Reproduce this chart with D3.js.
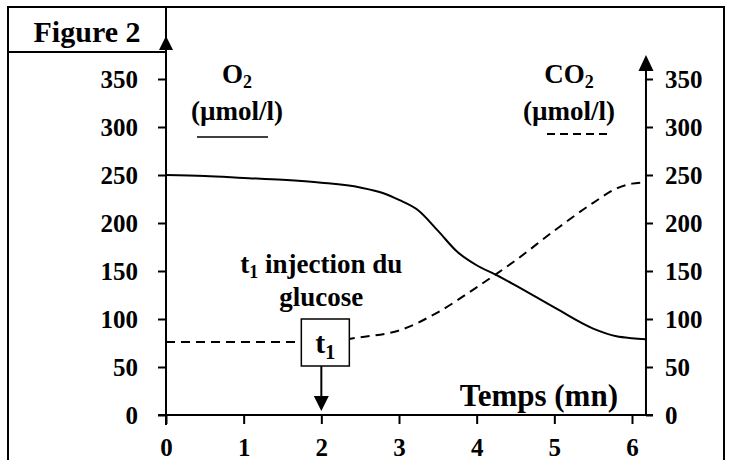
<!DOCTYPE html>
<html>
<head>
<meta charset="utf-8">
<script src="https://cdn.jsdelivr.net/npm/d3@7"></script>
<style>
  body { margin: 0; background: #fff; }
  svg text { font-family: "Liberation Serif", "Times New Roman", serif; font-weight: bold; fill: #000; }
</style>
</head>
<body>
<svg width="732" height="460"></svg>
<script>
var svg = d3.select("svg");

// data
var timeTicks = [0, 1, 2, 3, 4, 5, 6];
var concTicks = [0, 50, 100, 150, 200, 250, 300, 350];
var o2Time = [0, 0.5, 1, 1.5, 2, 2.5, 2.8, 3, 3.25, 3.5, 3.75, 4, 4.25, 4.5, 5, 5.5, 5.8, 6, 6.18];
var o2Vals = [250, 249, 247, 245, 242, 237, 231, 224, 213, 192, 170, 156, 146, 135, 112, 90, 82, 80, 79];
var co2Time = [0, 1, 2, 2.5, 3, 3.5, 4, 4.5, 5, 5.5, 5.8, 6, 6.12];
var co2Vals = [76, 76, 76, 81, 88, 107, 133, 161, 192, 221, 236, 241, 242];
var injectTime = 2;

var x = d3.scaleLinear().domain([0, 6]).range([166, 632]),
    y = d3.scaleLinear().domain([0, 350]).range([415, 79]),
    xEnd = x(6.18);

// outer frame + "Figure 2" box
svg.append("rect").attr("x", 8).attr("y", 7).attr("width", 716).attr("height", 470)
    .attr("fill", "none").attr("stroke", "#000").attr("stroke-width", 2);
svg.append("rect").attr("x", 8).attr("y", 7).attr("width", x(0) - 8).attr("height", 45)
    .attr("fill", "none").attr("stroke", "#000").attr("stroke-width", 2);
svg.append("text").attr("x", 87).attr("y", 42).attr("text-anchor", "middle")
    .style("font-size", "30px").text("Figure 2");

// axes
var gl = svg.append("g").attr("transform", "translate(" + x(0) + ",0)")
    .call(d3.axisLeft(y).tickValues(concTicks).tickSize(8).tickPadding(20).tickSizeOuter(0));
var gr = svg.append("g").attr("transform", "translate(" + xEnd + ",0)")
    .call(d3.axisRight(y).tickValues(concTicks).tickSize(7).tickPadding(12).tickSizeOuter(0));
var gb = svg.append("g").attr("transform", "translate(0," + y(0) + ")")
    .call(d3.axisBottom(x).tickValues(timeTicks).tickFormat(d3.format("d"))
      .tickSize(9).tickPadding(14).tickSizeOuter(0));

[gl, gr, gb].forEach(function(g) {
  g.select(".domain").remove();
  g.selectAll(".tick line").attr("stroke", "#000").attr("stroke-width", 2);
  g.selectAll(".tick text").style("font-size", "25px").attr("fill", "#000");
});

function line(x1, y1, x2, y2) {
  return svg.append("line").attr("x1", x1).attr("y1", y1).attr("x2", x2).attr("y2", y2)
      .attr("stroke", "#000").attr("stroke-width", 2);
}
function arrowDown(cx, tip, h, w) {
  svg.append("path").attr("d", "M" + cx + "," + tip + "L" + (cx - w / 2) + "," + (tip - h) + "L" + (cx + w / 2) + "," + (tip - h) + "Z");
}
function arrowUp(cx, tip, h, w) {
  svg.append("path").attr("d", "M" + cx + "," + tip + "L" + (cx - w / 2) + "," + (tip + h) + "L" + (cx + w / 2) + "," + (tip + h) + "Z");
}

line(x(0), 40, x(0), y(0) + 10);
arrowUp(x(0), 36, 14, 14);
line(xEnd, 60, xEnd, y(0));
arrowUp(xEnd, 55, 16, 15);
line(x(0) - 8, y(0), xEnd + 7, y(0));

// curves
var gen = d3.line().curve(d3.curveMonotoneX);
svg.append("path")
    .attr("d", gen(o2Time.map(function(t, i) { return [x(t), y(o2Vals[i])]; })))
    .attr("fill", "none").attr("stroke", "#000").attr("stroke-width", 2);
svg.append("path")
    .attr("d", gen(co2Time.map(function(t, i) { return [x(t), y(co2Vals[i])]; })))
    .attr("fill", "none").attr("stroke", "#000").attr("stroke-width", 2)
    .attr("stroke-dasharray", "9,6");

// injection marker
var xi = x(injectTime);
svg.append("rect").attr("x", xi - 20).attr("y", 319).attr("width", 48).attr("height", 47)
    .attr("fill", "#fff").attr("stroke", "#000").attr("stroke-width", 1.5);
var tb = svg.append("text").attr("x", xi + 4).attr("y", 353).attr("text-anchor", "middle")
    .style("font-size", "30px");
tb.append("tspan").text("t");
tb.append("tspan").attr("dy", 6).style("font-size", "20px").text("1");
line(xi, 366, xi, 397);
arrowDown(xi, 411, 15, 15);

var ti = svg.append("text").attr("x", xi).attr("y", 273).attr("text-anchor", "middle")
    .style("font-size", "27px");
ti.append("tspan").text("t");
ti.append("tspan").attr("dy", 5).style("font-size", "18px").text("1");
ti.append("tspan").attr("dy", -5).text(" injection du");
svg.append("text").attr("x", xi).attr("y", 306).attr("text-anchor", "middle")
    .style("font-size", "27px").text("glucose");

// legends
var o2 = svg.append("text").attr("x", 237).attr("y", 83).attr("text-anchor", "middle")
    .style("font-size", "27px");
o2.append("tspan").text("O");
o2.append("tspan").attr("dy", 5).style("font-size", "18px").text("2");
svg.append("text").attr("x", 237).attr("y", 120).attr("text-anchor", "middle")
    .style("font-size", "27px").text("(\u00b5mol/l)");
line(197, 137, 268, 137).attr("stroke-width", 1.5);

var co2 = svg.append("text").attr("x", 569).attr("y", 83).attr("text-anchor", "middle")
    .style("font-size", "27px");
co2.append("tspan").text("CO");
co2.append("tspan").attr("dy", 5).style("font-size", "18px").text("2");
svg.append("text").attr("x", 569).attr("y", 120).attr("text-anchor", "middle")
    .style("font-size", "27px").text("(\u00b5mol/l)");
line(547, 134, 610, 134).attr("stroke-dasharray", "8,5");

svg.append("text").attr("x", 618).attr("y", 406).attr("text-anchor", "end")
    .style("font-size", "31px").text("Temps (mn)");
</script>
</body>
</html>
